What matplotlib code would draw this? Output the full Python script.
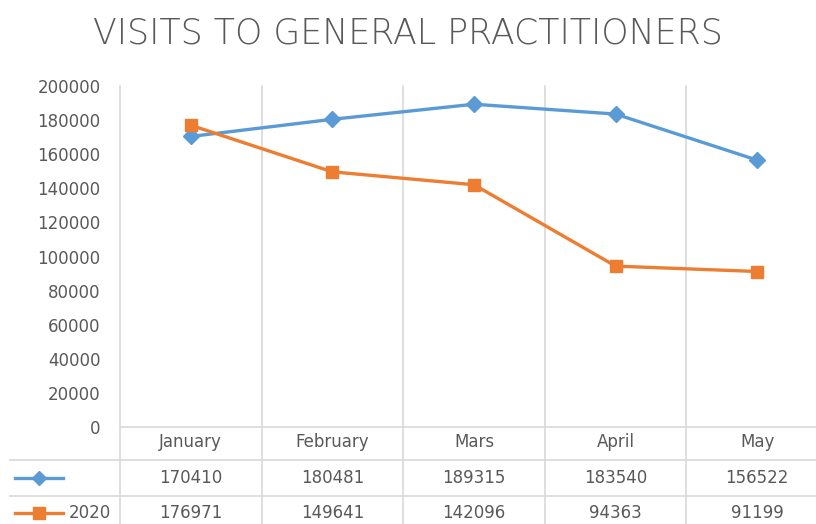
import matplotlib
matplotlib.use('Agg')
import matplotlib.pyplot as plt
from matplotlib.lines import Line2D

months = ['January', 'February', 'Mars', 'April', 'May']
visits_2019 = [170410, 180481, 189315, 183540, 156522]
visits_2020 = [176971, 149641, 142096, 94363, 91199]
series_names = ['', '2020']
y_ticks = [0, 20000, 40000, 60000, 80000, 100000, 120000, 140000, 160000, 180000, 200000]

BLUE = '#5B9BD5'
ORANGE = '#ED7D31'
GRID = '#D9D9D9'
TEXT = '#595959'

W, H = 816, 524
fig = plt.figure(figsize=(W / 100, H / 100), dpi=100)


def fx(px):
    return px / W


def fy(py):
    return 1 - py / H


# plot area in pixels: left 120, right 828 (cut by the figure), top 86, bottom 427
ax = fig.add_axes([fx(120), fy(427), fx(828) - fx(120), fy(86) - fy(427)])

xs = [i + 0.5 for i in range(len(months))]
ax.plot(xs, visits_2019, color=BLUE, lw=2.4, marker='D', ms=8, zorder=5, clip_on=False)
ax.plot(xs, visits_2020, color=ORANGE, lw=2.4, marker='s', ms=9, zorder=5, clip_on=False)

ax.set_xlim(0, len(months))
ax.set_ylim(0, 200000)
ax.set_yticks(y_ticks)
ax.set_yticklabels([str(v) for v in y_ticks], fontsize=12, color=TEXT)
ax.tick_params(axis='y', length=0, pad=14)
ax.set_xticks([])
for s in ax.spines.values():
    s.set_visible(False)

# vertical category separators running down through the data table
for i in range(len(months) + 1):
    ax.axvline(i, ymin=-0.4, ymax=1, color=GRID, lw=1.2, clip_on=False, zorder=1)

# horizontal table lines
fig.add_artist(Line2D([fx(120), 1], [fy(427), fy(427)], color=GRID, lw=1.2))
for py in (460, 496):
    fig.add_artist(Line2D([fx(10), 1], [fy(py), fy(py)], color=GRID, lw=1.2))

# table contents
row_y = [fy(442), fy(478), fy(513)]
to_fig = fig.transFigure.inverted()
for x, m in zip(xs, months):
    xf = to_fig.transform(ax.transData.transform((x, 0)))[0]
    fig.text(xf, row_y[0], m, ha='center', va='center', fontsize=12, color=TEXT)
for r, vals in enumerate([visits_2019, visits_2020]):
    for x, v in zip(xs, vals):
        xf = to_fig.transform(ax.transData.transform((x, 0)))[0]
        fig.text(xf, row_y[r + 1], str(v), ha='center', va='center', fontsize=12, color=TEXT)

# legend keys in the table
fig.add_artist(Line2D([fx(15), fx(63)], [row_y[1]] * 2, color=BLUE, lw=2.4))
fig.add_artist(Line2D([fx(39)], [row_y[1]], color=BLUE, marker='D', ms=7))
fig.add_artist(Line2D([fx(15), fx(63)], [row_y[2]] * 2, color=ORANGE, lw=2.4))
fig.add_artist(Line2D([fx(39)], [row_y[2]], color=ORANGE, marker='s', ms=8))
fig.text(fx(69), row_y[1], series_names[0], ha='left', va='center', fontsize=12, color=TEXT)
fig.text(fx(69), row_y[2], series_names[1], ha='left', va='center', fontsize=12, color=TEXT)

fig.text(fx(408), fy(33), 'VISITS TO GENERAL PRACTITIONERS', ha='center', va='center',
         fontsize=25, color=TEXT, fontweight='light')

fig.savefig('out.png', dpi=100)
